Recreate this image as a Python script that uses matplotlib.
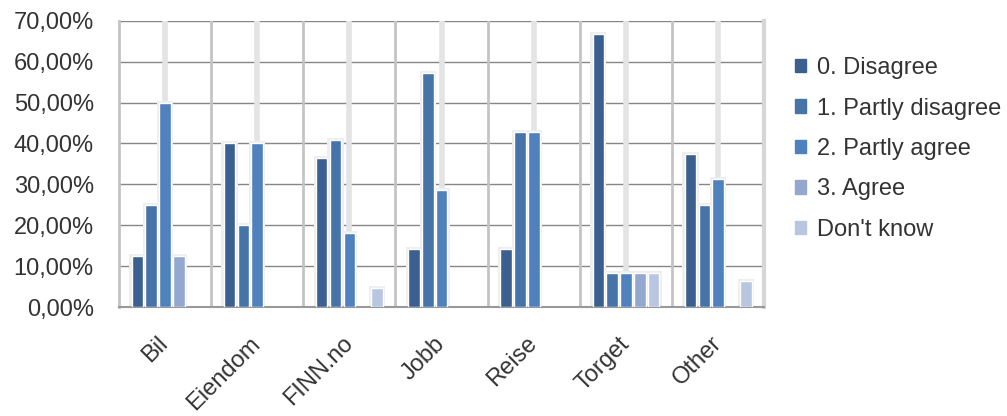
import matplotlib.pyplot as plt
import numpy as np
from matplotlib.ticker import FuncFormatter, MultipleLocator

categories = ["Bil", "Eiendom", "FINN.no", "Jobb", "Reise", "Torget", "Other"]
series = ["0. Disagree", "1. Partly disagree", "2. Partly agree", "3. Agree", "Don't know"]

disagree = [12.5, 40.0, 36.36, 14.29, 14.29, 66.67, 37.5]
partly_disagree = [25.0, 20.0, 40.91, 57.14, 42.86, 8.33, 25.0]
partly_agree = [50.0, 40.0, 18.18, 28.57, 42.86, 8.33, 31.25]
agree = [12.5, 0.0, 0.0, 0.0, 0.0, 8.33, 0.0]
dont_know = [0.0, 0.0, 4.55, 0.0, 0.0, 8.33, 6.25]

values = [disagree, partly_disagree, partly_agree, agree, dont_know]
colors = ["#3b5f8e", "#4673a8", "#4f81bd", "#93a7cf", "#b9c6e1"]

plt.rcParams['font.family'] = ['Liberation Sans', 'DejaVu Sans']
text_color = "#333333"

fig = plt.figure(figsize=(10.07, 4.16), dpi=100)
ax = fig.add_axes([0.118, 0.262, 0.641, 0.688])

x = np.arange(len(categories))
step = 0.15
width = 0.125

for i, (vals, col) in enumerate(zip(values, colors)):
    pos = x + (i - 2) * step
    vals = np.array(vals)
    shown = vals > 0
    # soft halo behind each bar
    ax.bar(pos[shown], vals[shown] + 0.5, width=width + 0.05, color="#eeeeee",
           zorder=2, linewidth=0)
    ax.bar(pos[shown], vals[shown], width=width, color=col, zorder=3,
           edgecolor="white", linewidth=1.0)

# legend entries in series order
handles = [plt.Rectangle((0, 0), 1, 1, color=c) for c in colors]

ax.set_xlim(-0.5, len(categories) - 0.5)
ax.set_ylim(0, 70)
ax.yaxis.set_major_locator(MultipleLocator(10))
ax.yaxis.set_major_formatter(FuncFormatter(lambda v, p: f"{v:.2f}%".replace(".", ",")))

# horizontal grid
for y in range(10, 71, 10):
    ax.axhline(y, color="#868686", linewidth=1.0, zorder=1)
# vertical lines: category boundaries and centres
for b in np.arange(0.5, len(categories) - 0.5, 1):
    ax.axvline(b, color="#c4c4c4", linewidth=2.0, zorder=1)
for c in x:
    ax.axvline(c, color="#e4e4e4", linewidth=4.0, zorder=1)

ax.spines["top"].set_visible(False)
ax.spines["right"].set_color("#d6d6d6")
ax.spines["right"].set_linewidth(3)
ax.spines["left"].set_color("#c4c4c4")
ax.spines["left"].set_linewidth(2)
ax.spines["bottom"].set_color("#999999")
ax.spines["bottom"].set_linewidth(1.5)

ax.set_xticks(x)
ax.set_xticklabels(categories, rotation=45, ha="right", va="center",
                   rotation_mode="anchor", fontsize=17, color=text_color)
ax.tick_params(axis="x", length=0, pad=24)
ax.tick_params(axis="y", length=0, pad=18, labelsize=17, labelcolor=text_color)

fig.legend(handles, series, loc="center left", bbox_to_anchor=(0.789, 0.642),
           frameon=False, fontsize=17, labelcolor=text_color,
           handlelength=0.5, handleheight=0.5, handletextpad=0.45,
           labelspacing=0.78, borderpad=0, borderaxespad=0)

fig.savefig("out.png", dpi=100)
